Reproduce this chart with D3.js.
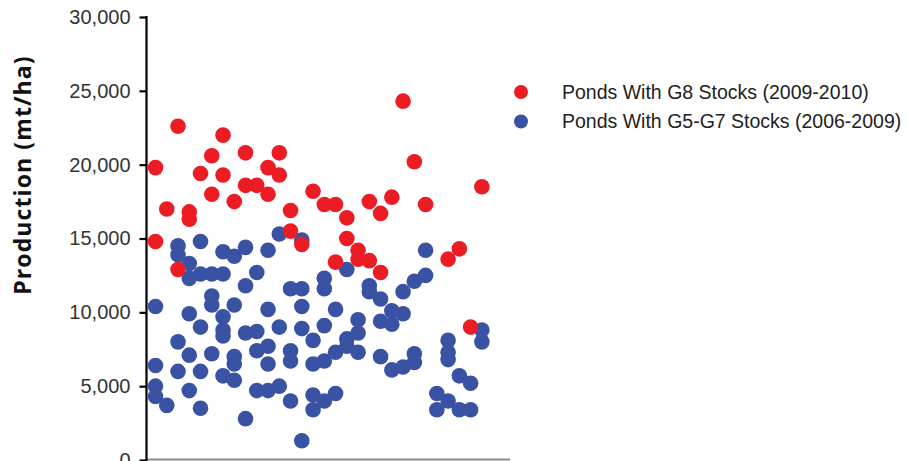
<!DOCTYPE html>
<html>
<head>
<meta charset="utf-8">
<script src="https://cdn.jsdelivr.net/npm/d3@7"></script>
<style>
  html, body { margin: 0; padding: 0; background: #fff; }
  svg { display: block; }
</style>
</head>
<body>
<svg id="chart" width="909" height="461"></svg>
<script>
// Pond production by pond number (1..30), two stocking periods.
const seriesNames = ["Ponds With G8 Stocks (2009-2010)", "Ponds With G5-G7 Stocks (2006-2009)"];
const seriesColors = ["#ec1c24", "#3a52a3"];

// G8 stocks: pond number and production (mt/ha)
const g8Ponds = [
  1, 1, 2, 3, 3, 4, 4, 5, 6, 6, 7, 7, 8, 9, 9, 10, 11, 11, 12, 12,
  13, 13, 14, 15, 16, 17, 17, 18, 18, 19, 19, 20, 20, 21, 21, 22, 23, 24, 25, 27,
  28, 29, 30
];
const g8Values = [
  19800, 14800, 17000, 22600, 12900, 16800, 16300, 19400, 20600, 18000, 22000, 19300, 17500, 20800, 18600, 18600, 19800, 18000, 20800, 19300,
  16900, 15500, 14600, 18200, 17300, 17300, 13400, 16400, 15000, 14200, 13600, 17500, 13500, 16700, 12700, 17800, 24300, 20200, 17300, 13600,
  14300, 9000, 18500
];

// G5-G7 stocks: pond number and production (mt/ha)
const g5g7Ponds = [
  1, 1, 1, 1,
  2,
  3, 3, 3, 3,
  4, 4, 4, 4, 4,
  5, 5, 5, 5, 5,
  6, 6, 6, 6,
  7, 7, 7, 7, 7, 7,
  8, 8, 8, 8, 8,
  9, 9, 9, 9,
  10, 10, 10, 10,
  11, 11, 11, 11, 11,
  12, 12, 12,
  13, 13, 13, 13,
  14, 14, 14, 14, 14,
  15, 15, 15, 15,
  16, 16, 16, 16, 16,
  17, 17, 17,
  18, 18, 18,
  19, 19, 19,
  20, 20,
  21, 21, 21,
  22, 22, 22,
  23, 23, 23,
  24, 24, 24,
  25, 25,
  26, 26,
  27, 27, 27, 27,
  28, 28,
  29, 29,
  30, 30
];
const g5g7Values = [
  10400, 6400, 5000, 4300,
  3700,
  14500, 13900, 8000, 6000,
  13300, 12300, 9900, 7100, 4700,
  14800, 12600, 9000, 6000, 3500,
  12600, 11100, 10500, 7200,
  14100, 12600, 9700, 8800, 8400, 5700,
  13800, 10500, 7000, 6500, 5400,
  14400, 11800, 8600, 2800,
  12700, 8700, 7400, 4700,
  14200, 10200, 7700, 6500, 4700,
  15300, 9000, 5000,
  11600, 7400, 6700, 4000,
  14900, 11600, 10400, 8900, 1300,
  8100, 6500, 4400, 3400,
  12300, 11600, 9100, 6700, 4000,
  10200, 7300, 4500,
  12900, 8200, 7700,
  9500, 8600, 7300,
  11800, 11400,
  10900, 9400, 7000,
  10100, 9200, 6100,
  11400, 9900, 6300,
  12100, 7200, 6600,
  14200, 12500,
  4500, 3400,
  8100, 7300, 6800, 4000,
  5700, 3400,
  5200, 3400,
  8800, 8000
];

const yTicks = [0, 5000, 10000, 15000, 20000, 25000, 30000];
const yTitle = "Production (mt/ha)";

const svg = d3.select("#chart");

const plotLeft = 146.5, plotRight = 510, plotTop = 17, plotBottom = 460;

const x = d3.scaleLinear().domain([0.2, 32.5]).range([plotLeft, plotRight]);
const y = d3.scaleLinear().domain([0, 30000]).range([plotBottom, plotTop]);

// Bottom axis: plain grey baseline, no ticks
svg.append("line")
  .attr("x1", plotLeft).attr("x2", plotRight)
  .attr("y1", y(0) - 0.5).attr("y2", y(0) - 0.5)
  .attr("stroke", "#8a8a8a").attr("stroke-width", 2);

// Left axis
const yAxis = svg.append("g")
  .attr("transform", `translate(${plotLeft},0)`)
  .call(d3.axisLeft(y).tickValues(yTicks).tickFormat(d3.format(",")).tickSize(7).tickPadding(9));
yAxis.select(".domain")
  .attr("d", `M0,${plotTop - 1}V${plotBottom + 4}`)
  .attr("stroke", "#000").attr("stroke-width", 2.2);
yAxis.selectAll(".tick line").attr("stroke", "#000").attr("stroke-width", 2.2);
yAxis.selectAll(".tick text")
  .attr("fill", "#333")
  .style("font-family", "'Liberation Sans', Arial, sans-serif")
  .style("font-size", "20px");

// Axis title
svg.append("text")
  .attr("transform", `translate(31,${(55 + 295) / 2}) rotate(-90)`)
  .attr("text-anchor", "middle")
  .style("font-family", "'Open Sans', sans-serif")
  .style("font-weight", 700)
  .style("font-size", "23px")
  .style("letter-spacing", "1.1px")
  .attr("fill", "#111")
  .text(yTitle);

const r = 7.8;
const g5g7 = g5g7Ponds.map((p, i) => ({ pond: p, value: g5g7Values[i] }));
const g8 = g8Ponds.map((p, i) => ({ pond: p, value: g8Values[i] }));

svg.append("g").selectAll("circle").data(g5g7).join("circle")
  .attr("cx", d => x(d.pond)).attr("cy", d => y(d.value)).attr("r", r)
  .attr("fill", seriesColors[1]);

svg.append("g").selectAll("circle").data(g8).join("circle")
  .attr("cx", d => x(d.pond)).attr("cy", d => y(d.value)).attr("r", r)
  .attr("fill", seriesColors[0]);

// Legend
const legend = svg.append("g").attr("transform", "translate(521,92)");
seriesNames.forEach((name, i) => {
  const row = legend.append("g").attr("transform", `translate(0,${i * 29.5})`);
  row.append("circle").attr("r", 7).attr("fill", seriesColors[i]);
  row.append("text")
    .attr("x", 41).attr("dy", "0.35em")
    .style("font-family", "'Liberation Sans', Arial, sans-serif")
    .style("font-size", "19.5px")
    .attr("fill", "#222")
    .text(name);
});
</script>
</body>
</html>
